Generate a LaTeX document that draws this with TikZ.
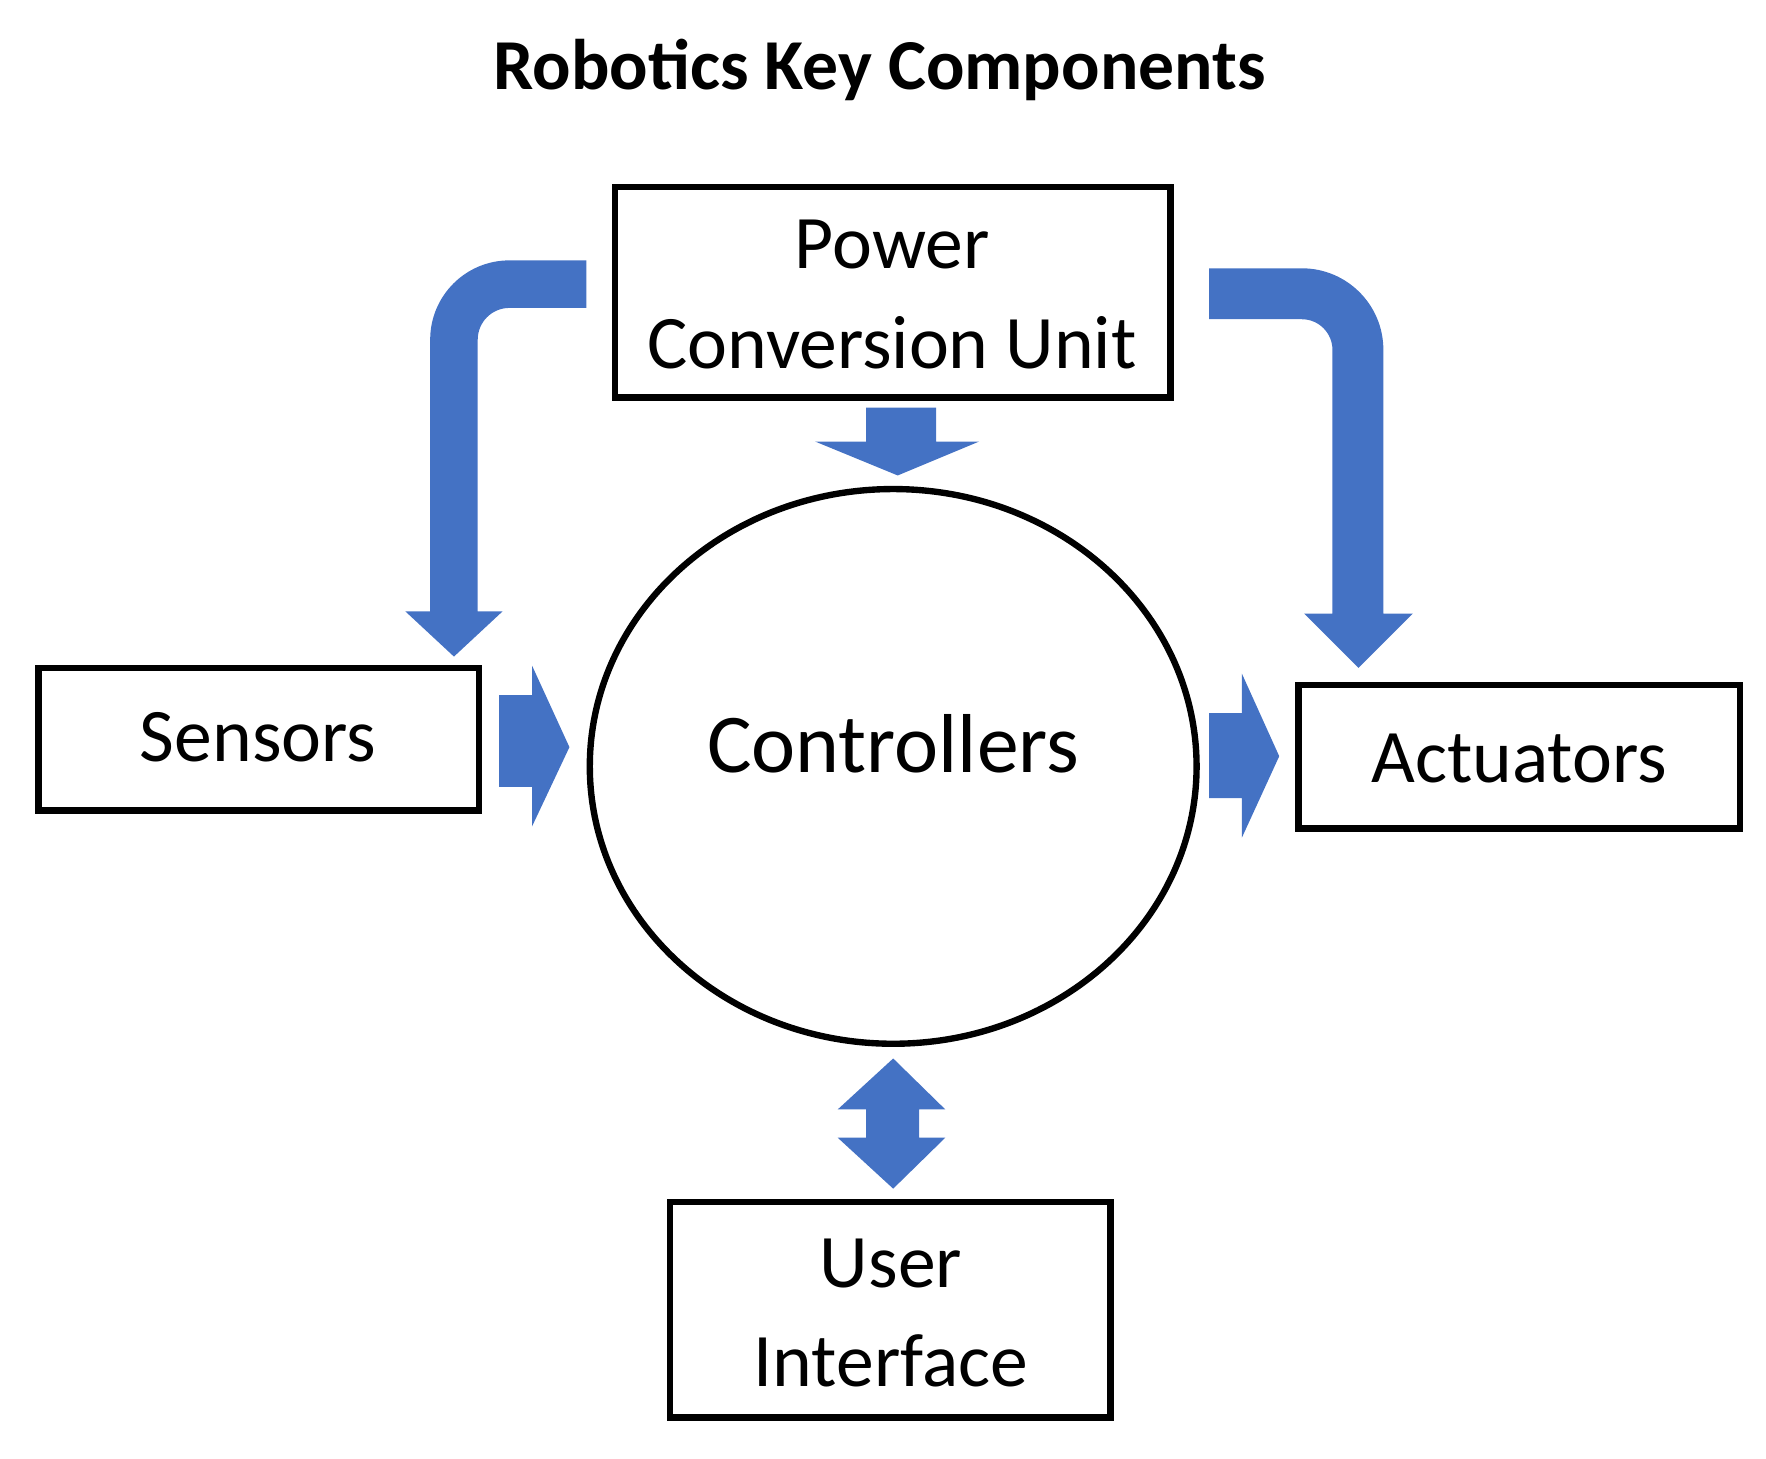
\documentclass[tikz,border=0pt]{standalone}
\usepackage{fontspec}
\setmainfont{Carlito}
\begin{document}
\begin{tikzpicture}[x=0.01cm,y=-0.01cm,
  box/.style={draw,line width=1.6pt},
  txt/.style={font=\fontsize{19}{23}\selectfont,align=center},
  arr/.style={fill=arrblue}]
\definecolor{arrblue}{HTML}{4472C4}
\useasboundingbox (0,0) rectangle (1560,1288);
\node[font=\bfseries\fontsize{18}{22}\selectfont] (title) at (777,62) {Robotics Key Components};
\draw[box] (543,165) rectangle (1034,351);
\node[txt] (pcu) at (788,260) {Power\\[2pt]Conversion Unit};
\draw[box] (34,590) rectangle (423,716);
\node[txt] (sens) at (228,651) {Sensors};
\draw[box] (1147,605) rectangle (1537,732);
\node[txt] (act) at (1342,670) {Actuators};
\draw[box] (592,1062) rectangle (981,1252);
\node[txt] (ui) at (787,1160) {User\\[2pt]Interface};
\draw[line width=1.6pt] (789,677) ellipse (268 and 245);
\node[txt,font=\fontsize{21}{25}\selectfont] (ctrl) at (789,657) {Controllers};
% arrows
\fill[arr] (765,360) -- (827,360) -- (827,390) -- (865,390) -- (793,420) -- (720,390) -- (765,390) -- cycle;
\fill[arr] (518,230) -- (450,230) arc(270:180:70) -- (380,540) -- (358,540) -- (401,580) -- (444,540) -- (422,540) -- (422,300) arc(180:270:28) -- (518,272) -- cycle;
\fill[arr] (1068,237) -- (1150,237) arc(270:360:72) -- (1222,542) -- (1248,542) -- (1200,590) -- (1152,542) -- (1177,542) -- (1177,309) arc(0:-90:27) -- (1068,282) -- cycle;
\fill[arr] (441,614) -- (470,614) -- (470,588) -- (503,660) -- (470,730) -- (470,695) -- (441,695) -- cycle;
\fill[arr] (1068,630) -- (1097,630) -- (1097,595) -- (1130,668) -- (1097,740) -- (1097,705) -- (1068,705) -- cycle;
\fill[arr] (789,935) -- (835,980) -- (812,980) -- (812,1005) -- (835,1005) -- (789,1050) -- (740,1005) -- (765,1005) -- (765,980) -- (740,980) -- cycle;
\end{tikzpicture}
\end{document}
